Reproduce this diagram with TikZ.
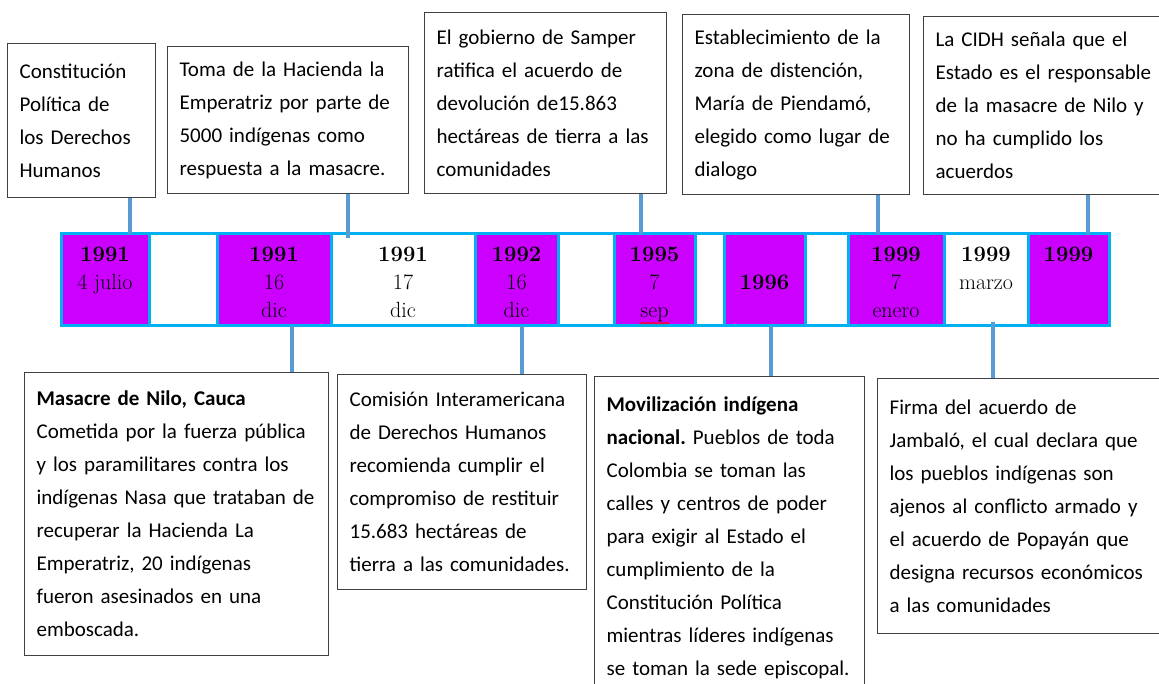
\documentclass[tikz,border=0pt]{standalone}
\usepackage{fontspec}
\newfontfamily\boxfont{Carlito}
\usetikzlibrary{positioning,decorations.pathmorphing}

\definecolor{cellpurple}{RGB}{204,0,255}
\definecolor{barcyan}{RGB}{0,176,240}
\definecolor{linkblue}{RGB}{91,155,213}
\definecolor{boxline}{RGB}{64,64,64}

\begin{document}
\begin{tikzpicture}[x=1pt,y=-1pt,
	]

	\tikzset{cell/.style={
				rectangle,draw=barcyan,line width=3pt,
				minimum height=92pt,inner sep=0pt,outer sep=0pt}
	}
	\tikzset{celltext/.style={
				anchor=north,align=center,inner sep=0pt,
				font=\fontsize{22}{28}\selectfont}
	}
	\tikzset{note/.style={
				rectangle,draw=boxline,line width=1.2pt,anchor=north west,
				align=left,inner xsep=12pt,inner ysep=0pt,
				font=\boxfont\fontsize{21}{33}\selectfont\frenchspacing}
	}
	\tikzset{link/.style={draw=linkblue,line width=4pt}}
	\tikzset{spell/.style={
				draw=red,line width=0.8pt,decorate,
				decoration={snake,amplitude=0.8pt,segment length=3pt}}
	}

	\path[use as bounding box,clip] (0,0) rectangle (1159,684);
	\fill[white] (0,0) rectangle (1159,684);

	\node[cell,fill=cellpurple,minimum width=88pt] (c1) at (105,280) {};
	\node[cell,minimum width=68pt,right=0pt of c1] (c2) {};
	\node[cell,fill=cellpurple,minimum width=114pt,right=0pt of c2] (c3) {};
	\node[cell,minimum width=144pt,right=0pt of c3] (c4) {};
	\node[cell,fill=cellpurple,minimum width=83pt,right=0pt of c4] (c5) {};
	\node[cell,minimum width=56pt,right=0pt of c5] (c6) {};
	\node[cell,fill=cellpurple,minimum width=81pt,right=0pt of c6] (c7) {};
	\node[cell,minimum width=29pt,right=0pt of c7] (c8) {};
	\node[cell,fill=cellpurple,minimum width=81pt,right=0pt of c8] (c9) {};
	\node[cell,minimum width=43pt,right=0pt of c9] (c10) {};
	\node[cell,fill=cellpurple,minimum width=96pt,right=0pt of c10] (c11) {};
	\node[cell,minimum width=84pt,right=0pt of c11] (c12) {};
	\node[cell,fill=cellpurple,minimum width=81pt,right=0pt of c12] (c13) {};

	\node[celltext] (d1) at ([yshift=-13pt]c1.north) {\textbf{1991}\\4 julio};
	\node[celltext] (d3) at ([yshift=-13pt]c3.north) {\textbf{1991}\\16\\dic};
	\node[celltext] (d4) at ([yshift=-13pt]c4.north) {\textbf{1991}\\17\\dic};
	\node[celltext] (d5) at ([yshift=-13pt]c5.north) {\textbf{1992}\\16\\dic};
	\node[celltext] (d7) at ([yshift=-13pt]c7.north) {\textbf{1995}\\7\\sep};
	\node[celltext] (d9) at ([yshift=-41pt]c9.north) {\textbf{1996}};
	\node[celltext] (d11) at ([yshift=-13pt]c11.north) {\textbf{1999}\\7\\enero};
	\node[celltext] (d12) at ([yshift=-13pt]c12.north) {\textbf{1999}\\marzo};
	\node[celltext] (d13) at ([yshift=-13pt]c13.north) {\textbf{1999}};
	\draw[spell] ([xshift=-15pt,yshift=-1pt]d7.south) -- ([xshift=15pt,yshift=-1pt]d7.south);

	\node[note,text width=124pt,minimum height=154pt] (t1) at (7,43)
		{Constitución\\Política de\\los Derechos\\Humanos};
	\node[note,text width=217pt,minimum height=147pt] (t2) at (167,46)
		{Toma de la Hacienda la\\Emperatriz por parte de\\5000 indígenas como\\respuesta a la masacre.};
	\node[note,text width=218pt,minimum height=181pt] (t3) at (424,12)
		{El gobierno de Samper\\ratifica el acuerdo de\\devolución de15.863\\hectáreas de tierra a las\\comunidades};
	\node[note,text width=203pt,minimum height=180pt] (t4) at (682,14)
		{Establecimiento de la\\zona de distención,\\María de Piendamó,\\elegido como lugar de\\dialogo};
	\node[note,text width=233pt,minimum height=178pt] (t5) at (923,16)
		{La CIDH señala que el\\Estado es el responsable\\de la masacre de Nilo y\\no ha cumplido los\\acuerdos};

	\node[note,text width=280pt,minimum height=283pt] (b1) at (24,372)
		{\textbf{Masacre de Nilo, Cauca}\\Cometida por la fuerza pública\\y los paramilitares contra los\\indígenas Nasa que trataban de\\recuperar la Hacienda La\\Emperatriz, 20 indígenas\\fueron asesinados en una\\emboscada.};
	\node[note,text width=225pt,minimum height=215pt] (b2) at (337,374)
		{Comisión Interamericana\\de Derechos Humanos\\recomienda cumplir el\\compromiso de restituir\\15.683 hectáreas de\\tierra a las comunidades.};
	\node[note,text width=246pt,minimum height=322pt] (b3) at (594,376)
		{\textbf{Movilización indígena}\\\textbf{nacional.} Pueblos de toda\\Colombia se toman las\\calles y centros de poder\\para exigir al Estado el\\cumplimiento de la\\Constitución Política\\mientras líderes indígenas\\se toman la sede episcopal.};
	\node[note,text width=279pt,minimum height=255pt] (b4) at (877,378)
		{Firma del acuerdo de\\Jambaló, el cual declara que\\los pueblos indígenas son\\ajenos al conflicto armado y\\el acuerdo de Popayán que\\designa recursos económicos\\a las comunidades};

	\coordinate (k1) at (130,0);
	\coordinate (k2) at (348,0);
	\coordinate (k3) at (641,0);
	\coordinate (k4) at (878,0);
	\coordinate (k5) at (1088,0);
	\coordinate (k6) at (292,0);
	\coordinate (k7) at (522,0);
	\coordinate (k8) at (771,0);
	\coordinate (k9) at (993,0);

	\draw[link] (k1 |- t1.south) -- (k1 |- c1.north);
	\draw[link] (k2 |- t2.south) -- (k2 |- c4.north) -- ++(0,4);
	\draw[link] (k3 |- t3.south) -- (k3 |- c7.north);
	\draw[link] (k4 |- t4.south) -- (k4 |- c11.north);
	\draw[link] (k5 |- t5.south) -- (k5 |- c13.north);

	\draw[link] (k6 |- c3.south) -- (k6 |- b1.north);
	\draw[link] (k7 |- c5.south) -- (k7 |- b2.north);
	\draw[link] (k8 |- c9.south) -- (k8 |- b3.north);
	\draw[link] (k9 |- c12.south) ++(0,-4) -- (k9 |- b4.north);

\end{tikzpicture}
\end{document}
